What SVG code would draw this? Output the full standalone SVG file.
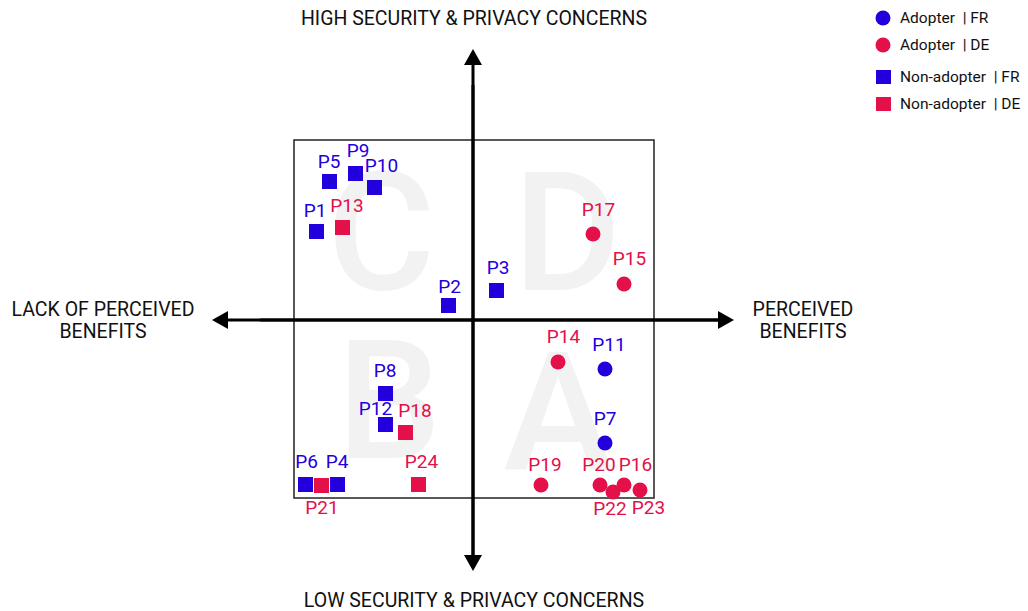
<svg xmlns="http://www.w3.org/2000/svg" width="1028" height="611" viewBox="0 0 1028 611">
<style>
text{font-family:Roboto,"Liberation Sans",sans-serif}
.q{font-size:165px;font-weight:500;fill:#f2f2f2;text-anchor:middle}
.ax{font-size:19.5px;fill:#111;text-anchor:middle}
.lb{font-size:19px;text-anchor:middle}
.lg{font-size:15.5px;fill:#111;white-space:pre}
.fr{fill:#2200dd}
.de{fill:#e3104a}
.axis{stroke:#000;stroke-width:3;fill:none}
.box{stroke:#222;stroke-width:1.5;fill:none}
</style>
<defs>
<marker id="ah" viewBox="0 0 16 18" refX="0" refY="9" markerWidth="16" markerHeight="18" markerUnits="userSpaceOnUse" orient="auto-start-reverse">
<path d="M0,0 L16,9 L0,18 Z" fill="#000"/>
</marker>
</defs>
<rect width="1028" height="611" fill="#fff"/>
<g id="quadrant-letters">
<text class="q" x="381" y="289">C</text>
<text class="q" x="567" y="290">D</text>
<text class="q" x="389" y="458">B</text>
<text class="q" x="558" y="470">A</text>
</g>
<rect id="frame" class="box" x="294" y="140" width="360" height="358"/>
<g id="connectors">
<line class="axis" x1="473" y1="555" x2="473" y2="65" marker-end="url(#ah)"/>
<line class="axis" x1="473" y1="85" x2="473" y2="555" marker-end="url(#ah)"/>
<line class="axis" x1="718" y1="320" x2="228" y2="320" marker-end="url(#ah)"/>
<line class="axis" x1="260" y1="320" x2="718" y2="320" marker-end="url(#ah)"/>
</g>
<g id="axis-labels">
<text class="ax" x="474" y="25">HIGH SECURITY &amp; PRIVACY CONCERNS</text>
<text class="ax" x="474" y="607">LOW SECURITY &amp; PRIVACY CONCERNS</text>
<text class="ax" x="103" y="316">LACK OF PERCEIVED</text>
<text class="ax" x="103" y="338">BENEFITS</text>
<text class="ax" x="803" y="316">PERCEIVED</text>
<text class="ax" x="803" y="338">BENEFITS</text>
</g>
<g id="legend">
<circle class="fr" cx="883" cy="18" r="7.5"/>
<text class="lg" x="900" y="23">Adopter  | FR</text>
<circle class="de" cx="883" cy="45" r="7.5"/>
<text class="lg" x="900" y="50">Adopter  | DE</text>
<rect class="fr" x="876" y="70" width="15" height="14"/>
<text class="lg" x="900" y="82">Non-adopter  | FR</text>
<rect class="de" x="876" y="97" width="15" height="14"/>
<text class="lg" x="900" y="109">Non-adopter  | DE</text>
</g>
<g id="P1"><rect class="fr" x="309" y="224" width="15" height="15"/><text class="lb fr" x="315" y="217">P1</text></g>
<g id="P2"><rect class="fr" x="441" y="298" width="15" height="15"/><text class="lb fr" x="449.5" y="293">P2</text></g>
<g id="P3"><rect class="fr" x="489" y="283" width="15" height="15"/><text class="lb fr" x="498" y="274">P3</text></g>
<g id="P4"><rect class="fr" x="330" y="477" width="15" height="15"/><text class="lb fr" x="337" y="468">P4</text></g>
<g id="P5"><rect class="fr" x="322" y="174" width="15" height="15"/><text class="lb fr" x="329" y="168">P5</text></g>
<g id="P6"><rect class="fr" x="298" y="477" width="15" height="15"/><text class="lb fr" x="306.5" y="468">P6</text></g>
<g id="P7"><circle class="fr" cx="605" cy="443" r="7.5"/><text class="lb fr" x="605" y="425">P7</text></g>
<g id="P8"><rect class="fr" x="378" y="386" width="15" height="15"/><text class="lb fr" x="385" y="377">P8</text></g>
<g id="P9"><rect class="fr" x="348" y="166" width="15" height="15"/><text class="lb fr" x="358" y="157">P9</text></g>
<g id="P10"><rect class="fr" x="367" y="180" width="15" height="15"/><text class="lb fr" x="381.5" y="172">P10</text></g>
<g id="P11"><circle class="fr" cx="605" cy="369" r="7.5"/><text class="lb fr" x="609" y="351">P11</text></g>
<g id="P12"><rect class="fr" x="378" y="417" width="15" height="15"/><text class="lb fr" x="375.5" y="415">P12</text></g>
<g id="P13"><rect class="de" x="335" y="220" width="15" height="15"/><text class="lb de" x="347" y="212">P13</text></g>
<g id="P14"><circle class="de" cx="558" cy="362" r="7.5"/><text class="lb de" x="563.5" y="343">P14</text></g>
<g id="P15"><circle class="de" cx="624" cy="284" r="7.5"/><text class="lb de" x="629.5" y="265">P15</text></g>
<g id="P16"><circle class="de" cx="624" cy="485" r="7.5"/><text class="lb de" x="635.5" y="471">P16</text></g>
<g id="P17"><circle class="de" cx="593" cy="234" r="7.5"/><text class="lb de" x="598.5" y="216">P17</text></g>
<g id="P18"><rect class="de" x="398" y="425" width="15" height="15"/><text class="lb de" x="415" y="417">P18</text></g>
<g id="P19"><circle class="de" cx="541" cy="485" r="7.5"/><text class="lb de" x="545" y="471">P19</text></g>
<g id="P20"><circle class="de" cx="600" cy="485" r="7.5"/><text class="lb de" x="599" y="471">P20</text></g>
<g id="P21"><rect class="de" x="314" y="478" width="15" height="15"/><text class="lb de" x="322" y="514">P21</text></g>
<g id="P22"><circle class="de" cx="613" cy="492" r="7.5"/><text class="lb de" x="610" y="515">P22</text></g>
<g id="P23"><circle class="de" cx="640" cy="490" r="7.5"/><text class="lb de" x="648.5" y="514">P23</text></g>
<g id="P24"><rect class="de" x="411" y="477" width="15" height="15"/><text class="lb de" x="421.5" y="468">P24</text></g>
</svg>
